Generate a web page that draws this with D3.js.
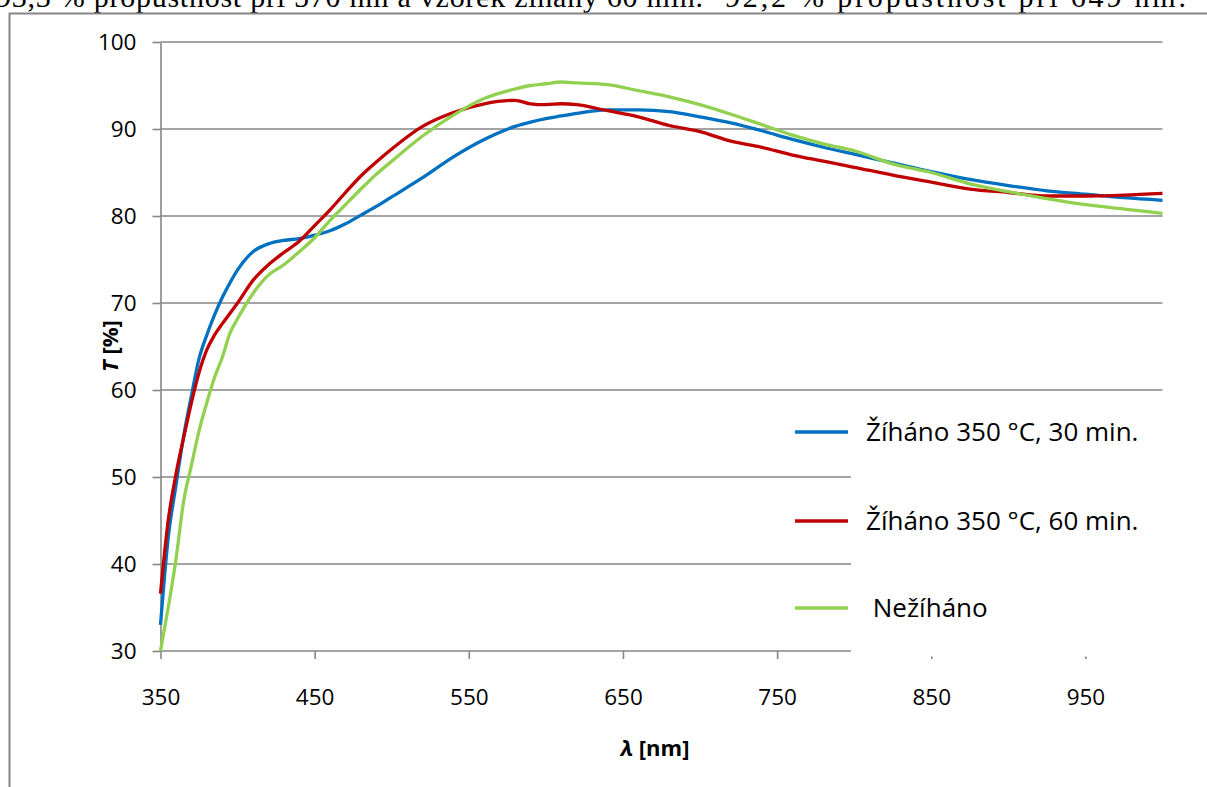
<!DOCTYPE html>
<html>
<head>
<meta charset="utf-8">
<script src="https://cdn.jsdelivr.net/npm/d3@7/dist/d3.min.js"></script>
<style>
  html, body { margin: 0; padding: 0; background: #fff; }
  svg { display: block; }
  text { font-family: "Open Sans", sans-serif; fill: #000; }
</style>
</head>
<body>
<svg id="chart" width="1207" height="787"></svg>
<script>
// ---- data ----
const wavelengths = [350,355,360,365,370,375,380,385,390,395,400,410,420,430,440,450,460,470,480,490,500,520,540,560,580,590,600,610,620,640,660,680,700,720,740,760,780,800,825,850,875,900,925,950,975,1000];
const annealed30 = [33,43,49,54.7,59.3,63.6,66.3,68.6,70.6,72.3,73.8,75.9,76.8,77.2,77.4,77.8,78.3,79.1,80.1,81.1,82.2,84.4,86.8,88.8,90.3,90.8,91.2,91.5,91.8,92.2,92.2,92.0,91.4,90.7,89.8,88.8,87.9,87.1,86.1,85.1,84.2,83.5,82.9,82.5,82.1,81.8];
const annealed60 = [36.6,45,50.3,54.5,58.5,62,64.6,66.3,67.6,68.8,70.0,72.6,74.4,75.8,77.1,78.9,80.7,82.7,84.6,86.2,87.7,90.3,91.9,92.9,93.3,92.9,92.8,92.9,92.8,92.1,91.4,90.4,89.7,88.6,87.9,87.0,86.3,85.6,84.7,83.9,83.1,82.7,82.3,82.3,82.4,82.6];
const notAnnealed = [30,35,40.5,47.2,51.3,55.3,58.5,61.4,63.7,66.5,68.2,71.1,73.2,74.4,75.9,77.5,79.5,81.3,83.1,84.8,86.3,89.2,91.6,93.5,94.6,95.0,95.2,95.4,95.3,95.1,94.4,93.7,92.8,91.7,90.5,89.3,88.3,87.5,86.0,85.0,83.7,82.8,82.0,81.3,80.8,80.3];
const seriesNames = ["Žíháno 350 °C, 30 min.", "Žíháno 350 °C, 60 min.", " Nežíháno"];
const seriesColors = ["#0070C0", "#C00000", "#92D050"];
const xTickValues = [350,450,550,650,750,850,950];
const yTickValues = [30,40,50,60,70,80,90,100];
const topTextA = "93,3 % propustnost při 570 nm a vzorek žíhaný 60 min.";
const topTextB = "92,2 % propustnost při 649 nm.";

const series = [annealed30, annealed60, notAnnealed];

const svg = d3.select("#chart");
const x = d3.scaleLinear().domain([350, 1000]).range([160.5, 1162.5]);
const y = d3.scaleLinear().domain([30, 100]).range([651, 42]);
const gridColor = "#868686";

// top (cut) caption
svg.append("text").attr("x", -4).attr("y", 7)
  .attr("textLength", 707).attr("lengthAdjust", "spacing")
  .style("font-family", "'Liberation Serif', 'Times New Roman', serif")
  .style("font-size", "30px").text(topTextA);
svg.append("text").attr("x", 725).attr("y", 7)
  .attr("textLength", 461).attr("lengthAdjust", "spacing")
  .style("font-family", "'Liberation Serif', 'Times New Roman', serif")
  .style("font-size", "30px").text(topTextB);

// outer frame
svg.append("path").attr("d", "M9.5,787V13.5H1207")
  .attr("fill", "none").attr("stroke", gridColor).attr("stroke-width", 2);

// gridlines
svg.append("g").selectAll("line").data(yTickValues).join("line")
  .attr("x1", x(350)).attr("x2", x(1000))
  .attr("y1", d => y(d)).attr("y2", d => y(d))
  .attr("stroke", gridColor).attr("stroke-width", 1.6);

// x axis ticks
const xAxis = svg.append("g").attr("transform", `translate(0,${y(30)})`)
  .call(d3.axisBottom(x).tickValues(xTickValues).tickSize(8).tickSizeOuter(0).tickPadding(30));
xAxis.select(".domain").remove();
xAxis.selectAll(".tick line").attr("stroke", gridColor).attr("stroke-width", 1.6);
xAxis.selectAll(".tick text").style("font-size", "22.5px").style("font-family", "'Open Sans', sans-serif");

// y axis
const yAxis = svg.append("g").attr("transform", `translate(${x(350)},0)`)
  .call(d3.axisLeft(y).tickValues(yTickValues).tickSize(8).tickSizeOuter(0).tickPadding(16));
yAxis.select(".domain").attr("stroke", gridColor).attr("stroke-width", 1.6);
yAxis.selectAll(".tick line").attr("stroke", gridColor).attr("stroke-width", 1.6);
yAxis.selectAll(".tick text").style("font-size", "22.5px").style("font-family", "'Open Sans', sans-serif");

// legend background (occludes gridlines)
svg.append("rect").attr("x", 851).attr("y", 398).attr("width", 360).attr("height", 258.5).attr("fill", "#fff");

// series lines
const line = d3.line().x((d, i) => x(wavelengths[i])).y(d => y(d)).curve(d3.curveMonotoneX);
svg.append("g").selectAll("path").data(series).join("path")
  .attr("d", d => line(d))
  .attr("fill", "none")
  .attr("stroke", (d, i) => seriesColors[i])
  .attr("stroke-width", 3.3)
  .attr("stroke-linejoin", "round");

// legend
const legendY = [432, 521, 608];
const lg = svg.append("g").selectAll("g").data(seriesNames).join("g")
  .attr("transform", (d, i) => `translate(0,${legendY[i]})`);
lg.append("line").attr("x1", 795).attr("x2", 848).attr("y1", 0).attr("y2", 0)
  .attr("stroke", (d, i) => seriesColors[i]).attr("stroke-width", 3.3);
lg.append("text").attr("x", 866).attr("y", 0).attr("dy", "0.35em")
  .style("font-size", "26px").style("white-space", "pre").text(d => d);

// axis titles
const xt = svg.append("text").attr("x", 655).attr("y", 756).attr("text-anchor", "middle")
  .style("font-size", "22px").style("font-weight", "bold");
xt.append("tspan").style("font-style", "italic").text("λ");
xt.append("tspan").text(" [nm]");

const yt = svg.append("text").attr("transform", "translate(118,346) rotate(-90)").attr("text-anchor", "middle")
  .style("font-size", "22px").style("font-weight", "bold");
yt.append("tspan").style("font-style", "italic").text("T");
yt.append("tspan").text(" [%]");
</script>
</body>
</html>
